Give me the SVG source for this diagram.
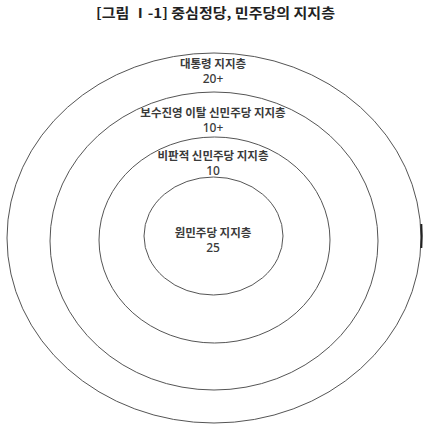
<svg xmlns="http://www.w3.org/2000/svg" width="430" height="431" viewBox="0 0 430 431">
<style>
.ring{fill:none;stroke:#555;stroke-width:1}
.lbl{font-family:"Noto Sans CJK KR","Noto Sans",sans-serif;font-size:11.5px;font-weight:600;fill:#3a3a3a;text-anchor:middle}
.num{font-family:"Noto Sans","Noto Sans CJK KR",sans-serif;font-size:12px;font-weight:500;fill:#3a3a3a;text-anchor:middle}
.title{font-family:"Noto Sans CJK KR",sans-serif;font-size:13.5px;font-weight:bold;fill:#222}
</style>
<rect width="430" height="431" fill="#fff"/>
<text class="title" x="96" y="18" textLength="239" lengthAdjust="spacingAndGlyphs">[그림  Ⅰ-1] 중심정당, 민주당의 지지층</text>
<g id="ring-president">
<ellipse class="ring" cx="214" cy="238" rx="207" ry="185"/>
<path d="M421.3 224 Q422.2 236 421.3 248" fill="none" stroke="#222" stroke-width="2"/>
<text class="lbl" x="213" y="68">대통령 지지층</text>
<text class="num" x="213" y="83">20+</text>
</g>
<g id="ring-conservative">
<ellipse class="ring" cx="214" cy="241" rx="164" ry="149"/>
<text class="lbl" x="213" y="117">보수진영 이탈 신민주당 지지층</text>
<text class="num" x="213" y="132">10+</text>
</g>
<g id="ring-critical">
<ellipse class="ring" cx="214.5" cy="240" rx="115.5" ry="103"/>
<text class="lbl" x="213" y="159.5">비판적 신민주당 지지층</text>
<text class="num" x="213" y="174.5">10</text>
</g>
<g id="ring-core">
<ellipse class="ring" cx="213.5" cy="236" rx="69.5" ry="59"/>
<text class="lbl" x="213" y="236.5">원민주당 지지층</text>
<text class="num" x="213" y="251.5">25</text>
</g>
<g id="connectors"/>
</svg>
